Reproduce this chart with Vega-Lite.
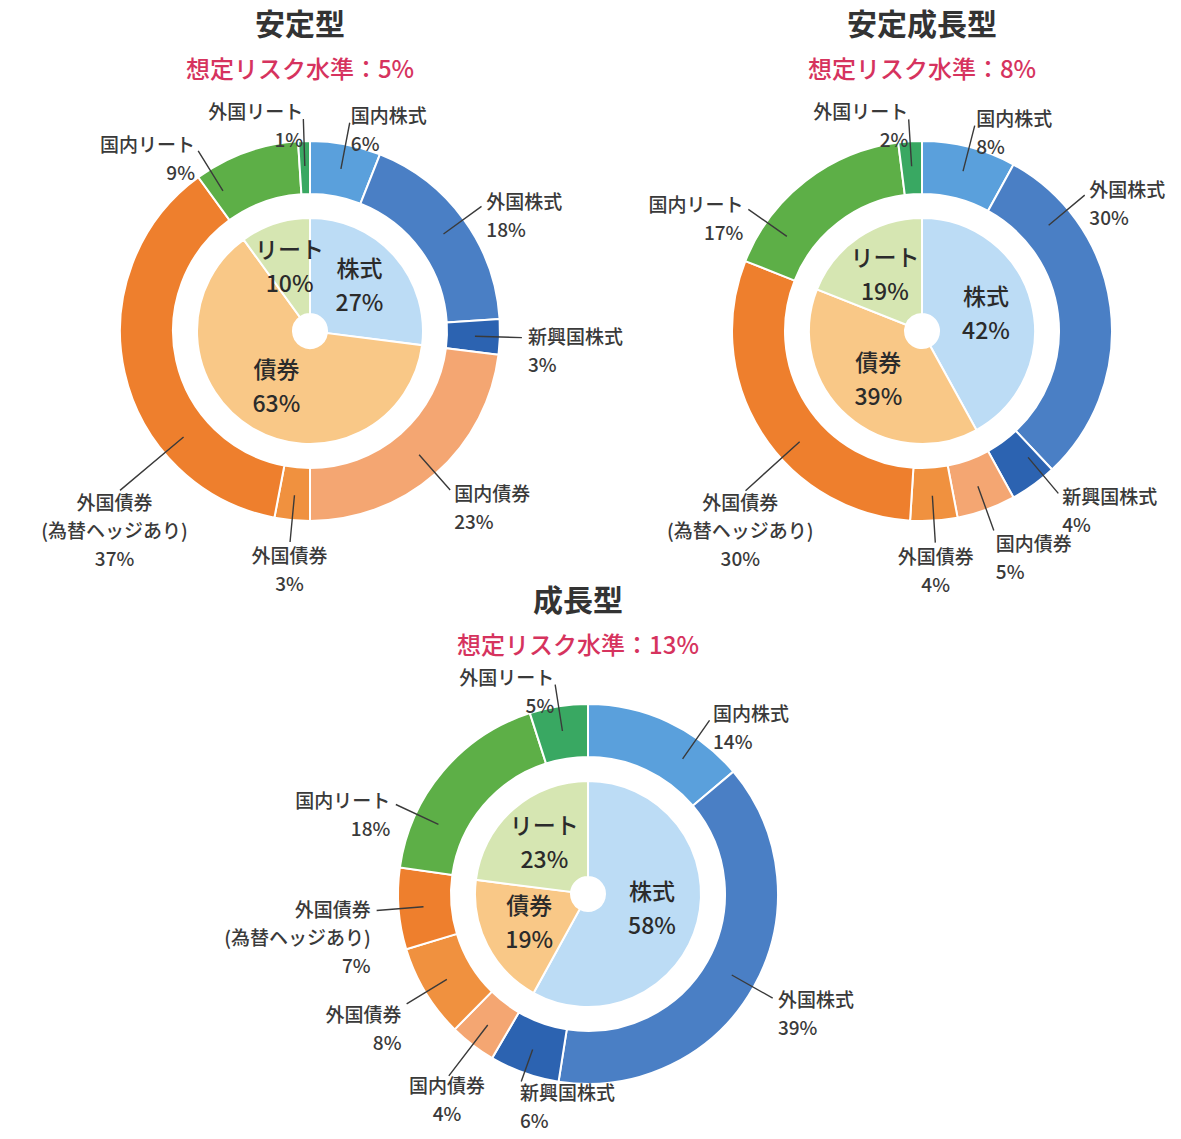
{
  "$schema": "https://vega.github.io/schema/vega-lite/v6.json",
  "background": "white",
  "padding": {"left": 15, "top": 11, "right": 5, "bottom": 5},
  "config": {
    "view": {"stroke": null},
    "title": {"font": "Noto Sans CJK JP", "fontSize": 30, "fontWeight": "bold", "color": "#333333", "subtitleFont": "Noto Sans CJK JP", "subtitleFontSize": 24, "subtitleFontWeight": 500, "subtitleColor": "#D6335E", "subtitlePadding": 18, "anchor": "middle", "frame": "group", "offset": 18}
  },
  "datasets": {
    "alloc": [
      {"chart": "安定型", "ring": "outer", "i": 1, "name": "国内株式", "v": 6, "label": "国内株式\n6%"},
      {"chart": "安定型", "ring": "outer", "i": 2, "name": "外国株式", "v": 18, "label": "外国株式\n18%"},
      {"chart": "安定型", "ring": "outer", "i": 3, "name": "新興国株式", "v": 3, "label": "新興国株式\n3%"},
      {"chart": "安定型", "ring": "outer", "i": 4, "name": "国内債券", "v": 23, "label": "国内債券\n23%"},
      {"chart": "安定型", "ring": "outer", "i": 5, "name": "外国債券", "v": 3, "label": "外国債券\n3%"},
      {"chart": "安定型", "ring": "outer", "i": 6, "name": "外国債券(為替ヘッジあり)", "v": 37, "label": "外国債券\n(為替ヘッジあり)\n37%"},
      {"chart": "安定型", "ring": "outer", "i": 7, "name": "国内リート", "v": 9, "label": "国内リート\n9%"},
      {"chart": "安定型", "ring": "outer", "i": 8, "name": "外国リート", "v": 1, "label": "外国リート\n1%"},
      {"chart": "安定型", "ring": "inner", "i": 1, "name": "株式", "v": 27, "label": "株式\n27%"},
      {"chart": "安定型", "ring": "inner", "i": 2, "name": "債券", "v": 63, "label": "債券\n63%"},
      {"chart": "安定型", "ring": "inner", "i": 3, "name": "リート", "v": 10, "label": "リート\n10%"},
      {"chart": "安定成長型", "ring": "outer", "i": 1, "name": "国内株式", "v": 8, "label": "国内株式\n8%"},
      {"chart": "安定成長型", "ring": "outer", "i": 2, "name": "外国株式", "v": 30, "label": "外国株式\n30%"},
      {"chart": "安定成長型", "ring": "outer", "i": 3, "name": "新興国株式", "v": 4, "label": "新興国株式\n4%"},
      {"chart": "安定成長型", "ring": "outer", "i": 4, "name": "国内債券", "v": 5, "label": "国内債券\n5%"},
      {"chart": "安定成長型", "ring": "outer", "i": 5, "name": "外国債券", "v": 4, "label": "外国債券\n4%"},
      {"chart": "安定成長型", "ring": "outer", "i": 6, "name": "外国債券(為替ヘッジあり)", "v": 30, "label": "外国債券\n(為替ヘッジあり)\n30%"},
      {"chart": "安定成長型", "ring": "outer", "i": 7, "name": "国内リート", "v": 17, "label": "国内リート\n17%"},
      {"chart": "安定成長型", "ring": "outer", "i": 8, "name": "外国リート", "v": 2, "label": "外国リート\n2%"},
      {"chart": "安定成長型", "ring": "inner", "i": 1, "name": "株式", "v": 42, "label": "株式\n42%"},
      {"chart": "安定成長型", "ring": "inner", "i": 2, "name": "債券", "v": 39, "label": "債券\n39%"},
      {"chart": "安定成長型", "ring": "inner", "i": 3, "name": "リート", "v": 19, "label": "リート\n19%"},
      {"chart": "成長型", "ring": "outer", "i": 1, "name": "国内株式", "v": 14, "label": "国内株式\n14%"},
      {"chart": "成長型", "ring": "outer", "i": 2, "name": "外国株式", "v": 39, "label": "外国株式\n39%"},
      {"chart": "成長型", "ring": "outer", "i": 3, "name": "新興国株式", "v": 6, "label": "新興国株式\n6%"},
      {"chart": "成長型", "ring": "outer", "i": 4, "name": "国内債券", "v": 4, "label": "国内債券\n4%"},
      {"chart": "成長型", "ring": "outer", "i": 5, "name": "外国債券", "v": 8, "label": "外国債券\n8%"},
      {"chart": "成長型", "ring": "outer", "i": 6, "name": "外国債券(為替ヘッジあり)", "v": 7, "label": "外国債券\n(為替ヘッジあり)\n7%"},
      {"chart": "成長型", "ring": "outer", "i": 7, "name": "国内リート", "v": 18, "label": "国内リート\n18%"},
      {"chart": "成長型", "ring": "outer", "i": 8, "name": "外国リート", "v": 5, "label": "外国リート\n5%"},
      {"chart": "成長型", "ring": "inner", "i": 1, "name": "株式", "v": 58, "label": "株式\n58%"},
      {"chart": "成長型", "ring": "inner", "i": 2, "name": "債券", "v": 19, "label": "債券\n19%"},
      {"chart": "成長型", "ring": "inner", "i": 3, "name": "リート", "v": 23, "label": "リート\n23%"}
    ]
  },
  "bounds": "flush",
  "spacing": 583,
  "vconcat": [
    {
      "bounds": "flush",
      "spacing": 67,
      "hconcat": [
        {
          "width": 590, "height": 460,
          "title": {"text": "安定型", "subtitle": "想定リスク水準：5%", "dx": -10},
          "data": {"name": "alloc"},
          "transform": [{"filter": {"field": "chart", "equal": "安定型"}}],
          "encoding": {
            "theta": {"field": "v", "type": "quantitative", "stack": true},
            "order": {"field": "i", "type": "quantitative"}
          },
          "resolve": {"scale": {"theta": "independent"}},
          "layer": [
            {
              "transform": [{"filter": {"field": "ring", "equal": "outer"}}],
              "mark": {"type": "arc", "radius": 190, "radius2": 137, "stroke": "#ffffff", "strokeWidth": 2},
              "encoding": {"color": {"field": "name", "type": "nominal", "legend": null, "scale": {"domain": ["国内株式","外国株式","新興国株式","国内債券","外国債券","外国債券(為替ヘッジあり)","国内リート","外国リート","株式","債券","リート"], "range": ["#5AA0DC","#4A7FC5","#2C63B1","#F4A672","#F0913F","#EE7F2D","#5DAF47","#39A862","#BCDCF5","#F9C887","#D6E6B2"]}}}
            },
            {
              "transform": [{"filter": {"field": "ring", "equal": "outer"}}],
              "mark": {"type": "arc", "padAngle": 3.14159, "radius2": 165,
                "radius": {"expr": "datum.name === '外国債券(為替ヘッジあり)' ? 248 : 212"},
                "thetaOffset": {"expr": "datum.name === '外国債券(為替ヘッジあり)' ? -0.478 : datum.name === '国内リート' ? -0.21 : 0"},
                "theta2Offset": {"expr": "datum.name === '外国債券(為替ヘッジあり)' ? -0.478 : datum.name === '国内リート' ? -0.21 : 0"},
                "filled": false, "stroke": "#3a3a3a", "strokeWidth": 1.4},
              "encoding": {"detail": {"field": "name", "type": "nominal"}}
            },
            {
              "transform": [{"filter": {"field": "ring", "equal": "outer"}}],
              "mark": {"type": "text", "lineBreak": "\n", "font": "Noto Sans CJK JP", "fontSize": 19, "fontWeight": 500, "lineHeight": 28, "fill": "#3a3a3a",
                "radius": {"expr": "datum.name === '外国債券(為替ヘッジあり)' ? 255 : 218"},
                "thetaOffset": {"expr": "datum.name === '外国債券(為替ヘッジあり)' ? -0.478 : datum.name === '国内リート' ? -0.21 : 0"},
                "align": {"expr": "(datum.name === '外国債券' || datum.name === '外国債券(為替ヘッジあり)') ? 'center' : (datum.name === '国内リート' || datum.name === '外国リート') ? 'right' : 'left'"},
                "baseline": {"expr": "(datum.name === '外国債券' || datum.name === '外国債券(為替ヘッジあり)') ? 'top' : 'middle'"}},
              "encoding": {"detail": {"field": "name", "type": "nominal"}, "text": {"field": "label", "type": "nominal"}}
            },
            {
              "transform": [{"filter": {"field": "ring", "equal": "inner"}}],
              "mark": {"type": "arc", "radius": 113, "radius2": 17, "stroke": "#ffffff", "strokeWidth": 2},
              "encoding": {"color": {"field": "name", "type": "nominal", "legend": null, "scale": {"domain": ["国内株式","外国株式","新興国株式","国内債券","外国債券","外国債券(為替ヘッジあり)","国内リート","外国リート","株式","債券","リート"], "range": ["#5AA0DC","#4A7FC5","#2C63B1","#F4A672","#F0913F","#EE7F2D","#5DAF47","#39A862","#BCDCF5","#F9C887","#D6E6B2"]}}}
            },
            {
              "transform": [{"filter": {"field": "ring", "equal": "inner"}}],
              "mark": {"type": "text", "lineBreak": "\n", "font": "Noto Sans CJK JP", "fontSize": 23, "fontWeight": 500, "lineHeight": 34, "dy": -17, "fill": "#2b2b2b", "radius": 66, "align": "center", "baseline": "middle"},
              "encoding": {"detail": {"field": "name", "type": "nominal"}, "text": {"field": "label", "type": "nominal"}}
            }
          ]
        },
        {
          "width": 500, "height": 460,
          "title": {"text": "安定成長型", "subtitle": "想定リスク水準：8%"},
          "data": {"name": "alloc"},
          "transform": [{"filter": {"field": "chart", "equal": "安定成長型"}}],
          "encoding": {
            "theta": {"field": "v", "type": "quantitative", "stack": true},
            "order": {"field": "i", "type": "quantitative"}
          },
          "resolve": {"scale": {"theta": "independent"}},
          "layer": [
            {
              "transform": [{"filter": {"field": "ring", "equal": "outer"}}],
              "mark": {"type": "arc", "radius": 190, "radius2": 137, "stroke": "#ffffff", "strokeWidth": 2},
              "encoding": {"color": {"field": "name", "type": "nominal", "legend": null, "scale": {"domain": ["国内株式","外国株式","新興国株式","国内債券","外国債券","外国債券(為替ヘッジあり)","国内リート","外国リート","株式","債券","リート"], "range": ["#5AA0DC","#4A7FC5","#2C63B1","#F4A672","#F0913F","#EE7F2D","#5DAF47","#39A862","#BCDCF5","#F9C887","#D6E6B2"]}}}
            },
            {
              "transform": [{"filter": {"field": "ring", "equal": "outer"}}],
              "mark": {"type": "arc", "padAngle": 3.14159, "radius2": 165,
                "radius": {"expr": "datum.name === '外国債券(為替ヘッジあり)' ? 238 : 212"},
                "thetaOffset": {"expr": "datum.name === '外国株式' ? -0.57 : datum.name === '外国債券(為替ヘッジあり)' ? -0.17 : datum.name === '国内リート' ? -0.30 : datum.name === '新興国株式' ? -0.07 : 0"},
                "theta2Offset": {"expr": "datum.name === '外国株式' ? -0.57 : datum.name === '外国債券(為替ヘッジあり)' ? -0.17 : datum.name === '国内リート' ? -0.30 : datum.name === '新興国株式' ? -0.07 : 0"},
                "filled": false, "stroke": "#3a3a3a", "strokeWidth": 1.4},
              "encoding": {"detail": {"field": "name", "type": "nominal"}}
            },
            {
              "transform": [{"filter": {"field": "ring", "equal": "outer"}}],
              "mark": {"type": "text", "lineBreak": "\n", "font": "Noto Sans CJK JP", "fontSize": 19, "fontWeight": 500, "lineHeight": 28, "fill": "#3a3a3a",
                "radius": {"expr": "datum.name === '外国債券(為替ヘッジあり)' ? 245 : 218"},
                "thetaOffset": {"expr": "datum.name === '外国株式' ? -0.57 : datum.name === '外国債券(為替ヘッジあり)' ? -0.17 : datum.name === '国内リート' ? -0.30 : datum.name === '新興国株式' ? -0.07 : 0"},
                "align": {"expr": "(datum.name === '外国債券' || datum.name === '外国債券(為替ヘッジあり)') ? 'center' : (datum.name === '国内リート' || datum.name === '外国リート') ? 'right' : 'left'"},
                "baseline": {"expr": "(datum.name === '外国債券' || datum.name === '外国債券(為替ヘッジあり)' || datum.name === '国内債券') ? 'top' : 'middle'"}},
              "encoding": {"detail": {"field": "name", "type": "nominal"}, "text": {"field": "label", "type": "nominal"}}
            },
            {
              "transform": [{"filter": {"field": "ring", "equal": "inner"}}],
              "mark": {"type": "arc", "radius": 113, "radius2": 17, "stroke": "#ffffff", "strokeWidth": 2},
              "encoding": {"color": {"field": "name", "type": "nominal", "legend": null, "scale": {"domain": ["国内株式","外国株式","新興国株式","国内債券","外国債券","外国債券(為替ヘッジあり)","国内リート","外国リート","株式","債券","リート"], "range": ["#5AA0DC","#4A7FC5","#2C63B1","#F4A672","#F0913F","#EE7F2D","#5DAF47","#39A862","#BCDCF5","#F9C887","#D6E6B2"]}}}
            },
            {
              "transform": [{"filter": {"field": "ring", "equal": "inner"}}],
              "mark": {"type": "text", "lineBreak": "\n", "font": "Noto Sans CJK JP", "fontSize": 23, "fontWeight": 500, "lineHeight": 34, "dy": -17, "fill": "#2b2b2b", "radius": 66, "align": "center", "baseline": "middle"},
              "encoding": {"detail": {"field": "name", "type": "nominal"}, "text": {"field": "label", "type": "nominal"}}
            }
          ]
        }
      ]
    },
    {
      "width": 1146, "height": 420,
      "title": {"text": "成長型", "subtitle": "想定リスク水準：13%", "dx": -10, "offset": 11},
      "data": {"name": "alloc"},
      "transform": [{"filter": {"field": "chart", "equal": "成長型"}}],
      "encoding": {
        "theta": {"field": "v", "type": "quantitative", "stack": true},
        "order": {"field": "i", "type": "quantitative"}
      },
      "resolve": {"scale": {"theta": "independent"}},
      "layer": [
        {
          "transform": [{"filter": {"field": "ring", "equal": "outer"}}],
          "mark": {"type": "arc", "radius": 190, "radius2": 137, "stroke": "#ffffff", "strokeWidth": 2},
          "encoding": {"color": {"field": "name", "type": "nominal", "legend": null, "scale": {"domain": ["国内株式","外国株式","新興国株式","国内債券","外国債券","外国債券(為替ヘッジあり)","国内リート","外国リート","株式","債券","リート"], "range": ["#5AA0DC","#4A7FC5","#2C63B1","#F4A672","#F0913F","#EE7F2D","#5DAF47","#39A862","#BCDCF5","#F9C887","#D6E6B2"]}}}
        },
        {
          "transform": [{"filter": {"field": "ring", "equal": "outer"}}],
          "mark": {"type": "arc", "padAngle": 3.14159, "radius2": 165,
            "radius": {"expr": "datum.name === '新興国株式' ? 199 : datum.name === '国内債券' ? 229 : 212"},
            "thetaOffset": {"expr": "datum.name === '国内リート' ? -0.264 : datum.name === '国内株式' ? 0.175 : 0"},
            "theta2Offset": {"expr": "datum.name === '国内リート' ? -0.264 : datum.name === '国内株式' ? 0.175 : 0"},
            "filled": false, "stroke": "#3a3a3a", "strokeWidth": 1.4},
          "encoding": {"detail": {"field": "name", "type": "nominal"}}
        },
        {
          "transform": [{"filter": {"field": "ring", "equal": "outer"}}],
          "mark": {"type": "text", "lineBreak": "\n", "font": "Noto Sans CJK JP", "fontSize": 19, "fontWeight": 500, "lineHeight": 28, "fill": "#3a3a3a",
            "radius": {"expr": "datum.name === '新興国株式' ? 203 : datum.name === '国内債券' ? 232 : 218"},
            "thetaOffset": {"expr": "datum.name === '国内リート' ? -0.264 : datum.name === '国内株式' ? 0.175 : 0"},
            "align": {"expr": "datum.name === '国内債券' ? 'center' : (datum.name === '外国債券' || datum.name === '外国債券(為替ヘッジあり)' || datum.name === '国内リート' || datum.name === '外国リート') ? 'right' : 'left'"},
            "baseline": {"expr": "(datum.name === '新興国株式' || datum.name === '国内債券' || datum.name === '外国債券') ? 'top' : 'middle'"}},
          "encoding": {"detail": {"field": "name", "type": "nominal"}, "text": {"field": "label", "type": "nominal"}}
        },
        {
          "transform": [{"filter": {"field": "ring", "equal": "inner"}}],
          "mark": {"type": "arc", "radius": 113, "radius2": 17, "stroke": "#ffffff", "strokeWidth": 2},
          "encoding": {"color": {"field": "name", "type": "nominal", "legend": null, "scale": {"domain": ["国内株式","外国株式","新興国株式","国内債券","外国債券","外国債券(為替ヘッジあり)","国内リート","外国リート","株式","債券","リート"], "range": ["#5AA0DC","#4A7FC5","#2C63B1","#F4A672","#F0913F","#EE7F2D","#5DAF47","#39A862","#BCDCF5","#F9C887","#D6E6B2"]}}}
        },
        {
          "transform": [{"filter": {"field": "ring", "equal": "inner"}}],
          "mark": {"type": "text", "lineBreak": "\n", "font": "Noto Sans CJK JP", "fontSize": 23, "fontWeight": 500, "lineHeight": 34, "dy": -17, "fill": "#2b2b2b", "radius": 66, "align": "center", "baseline": "middle"},
          "encoding": {"detail": {"field": "name", "type": "nominal"}, "text": {"field": "label", "type": "nominal"}}
        }
      ]
    }
  ]
}
